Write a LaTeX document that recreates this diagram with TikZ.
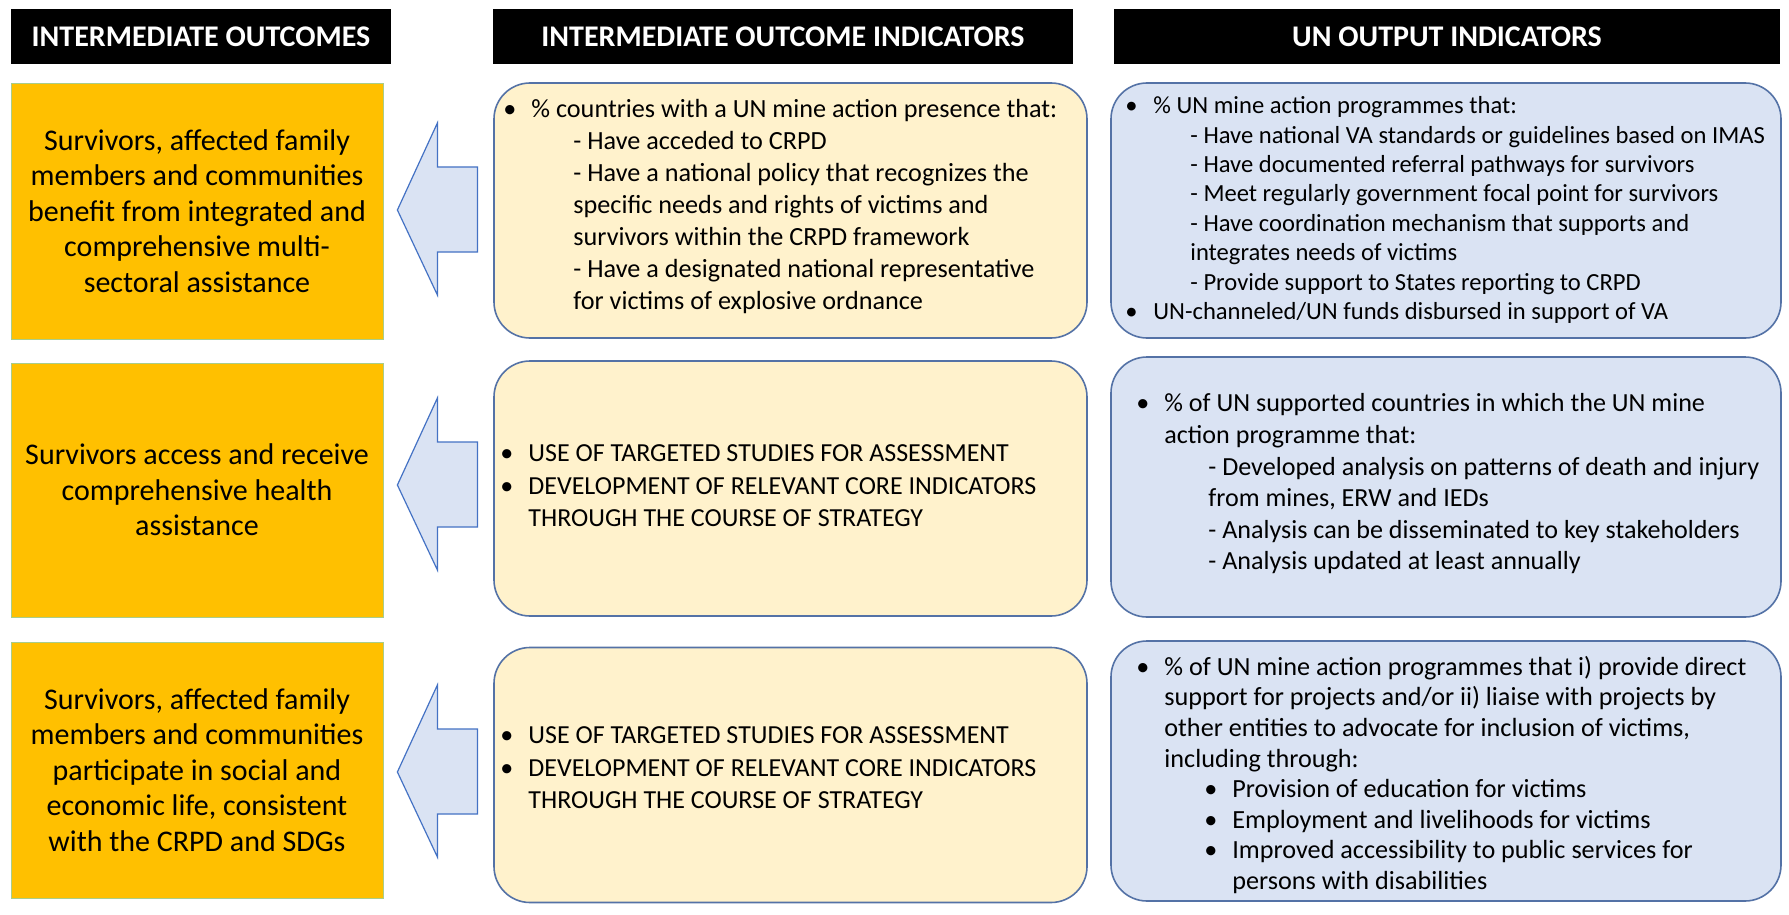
\documentclass[tikz,border=0pt]{standalone}
\usepackage{fontspec}
\setmainfont{Carlito}
\usetikzlibrary{calc}

\definecolor{outfill}{RGB}{255,192,0}
\definecolor{outline}{RGB}{169,205,138}
\definecolor{indfill}{RGB}{255,242,204}
\definecolor{unfill}{RGB}{218,227,243}
\definecolor{boxline}{RGB}{84,114,166}
\definecolor{arrline}{RGB}{68,114,196}

\newcommand{\bul}{\makebox[14pt][l]{\textbullet}}

\tikzset{
  barrow/.style={draw=arrline, fill=unfill, line width=0.6pt, line join=miter},
  txt/.style={anchor=west, align=left, inner sep=0pt}
}

\begin{document}
\begin{tikzpicture}[x=0.5pt,y=-0.5pt]

        \path[fill=white,use as bounding box] (0,0) rectangle (1789,915);

        \begin{scope}[every node/.style={fill=black,text=white,inner sep=0pt,
            minimum height=27.5pt,font=\fontsize{15}{18}\selectfont\bfseries}]
          \node[minimum width=190pt] (h1) at (201,36.5)  {INTERMEDIATE OUTCOMES};
          \node[minimum width=290pt] (h2) at (783,36.5)  {INTERMEDIATE OUTCOME INDICATORS};
          \node[minimum width=333pt] (h3) at (1447,36.5) {UN OUTPUT INDICATORS};
        \end{scope}

        \begin{scope}[every node/.style={draw=outline,fill=outfill,inner sep=0pt,
            minimum width=186pt,minimum height=128pt,align=center,
            font=\fontsize{15}{17.8}\selectfont}]
          \node (o1) at (197,211) {Survivors, affected family\\members and communities\\benefit from integrated and\\comprehensive multi-\\sectoral assistance};
          \node[minimum height=127pt] (o2) at (197,490) {Survivors access and receive\\comprehensive health\\assistance};
          \node (o3) at (197,770) {Survivors, affected family\\members and communities\\participate in social and\\economic life, consistent\\with the CRPD and SDGs};
        \end{scope}

        \begin{scope}[every node/.style={draw=boxline,fill=indfill,line width=0.8pt,
            rounded corners=18pt,minimum width=296.5pt,minimum height=127.5pt}]
          \node (i1) at (790.5,210.5) {};
          \node (i2) at (790.5,488.5) {};
          \node (i3) at (790.5,775) {};
        \end{scope}

        \begin{scope}[every node/.style={draw=boxline,fill=unfill,line width=0.8pt,
            rounded corners=18pt,minimum width=335pt,minimum height=127.5pt}]
          \node (u1) at (1446,210.5) {};
          \node[minimum height=130pt] (u2) at (1446,487) {};
          \node[minimum height=130pt] (u3) at (1446,771) {};
        \end{scope}

        \foreach \r/\dy in {1/-1,2/-5,3/2}
          \draw[barrow] ($(o\r.east)+(14,\dy)$) -- ++(40,-87) -- ++(0,44) -- ++(40,0)
            -- ++(0,85) -- ++(-40,0) -- ++(0,43) -- cycle;

        \node[txt,font=\fontsize{13.1}{16}\selectfont] (ti1) at (503,206.5)
          {\bul\% countries with a UN mine action presence that:\\
           \hspace*{35pt}- Have acceded to CRPD\\
           \hspace*{35pt}- Have a national policy that recognizes the\\
           \hspace*{35pt}specific needs and rights of victims and\\
           \hspace*{35pt}survivors within the CRPD framework\\
           \hspace*{35pt}- Have a designated national representative\\
           \hspace*{35pt}for victims of explosive ordnance};

        \node[txt,font=\fontsize{13}{16.2}\selectfont] (ti2) at (500,486)
          {\bul USE OF TARGETED STUDIES FOR ASSESSMENT\\
           \bul DEVELOPMENT OF RELEVANT CORE INDICATORS\\
           \hspace*{14pt}THROUGH THE COURSE OF STRATEGY};

        \node[txt,font=\fontsize{13}{16.2}\selectfont] (ti3) at (500,768)
          {\bul USE OF TARGETED STUDIES FOR ASSESSMENT\\
           \bul DEVELOPMENT OF RELEVANT CORE INDICATORS\\
           \hspace*{14pt}THROUGH THE COURSE OF STRATEGY};

        \node[txt,font=\fontsize{12.3}{14.7}\selectfont] (tu1) at (1125,210)
          {\bul\% UN mine action programmes that:\\
           \hspace*{32.5pt}- Have national VA standards or guidelines based on IMAS\\
           \hspace*{32.5pt}- Have documented referral pathways for survivors\\
           \hspace*{32.5pt}- Meet regularly government focal point for survivors\\
           \hspace*{32.5pt}- Have coordination mechanism that supports and\\
           \hspace*{32.5pt}integrates needs of victims\\
           \hspace*{32.5pt}- Provide support to States reporting to CRPD\\
           \bul UN-channeled/UN funds disbursed in support of VA};

        \node[txt,font=\fontsize{13.05}{15.8}\selectfont] (tu2) at (1136,484)
          {\bul\% of UN supported countries in which the UN mine\\
           \hspace*{14pt}action programme that:\\
           \hspace*{36pt}- Developed analysis on patterns of death and injury\\
           \hspace*{36pt}from mines, ERW and IEDs\\
           \hspace*{36pt}- Analysis can be disseminated to key stakeholders\\
           \hspace*{36pt}- Analysis updated at least annually};

        \node[txt,font=\fontsize{13.1}{15.3}\selectfont] (tu3) at (1136,775)
          {\bul\% of UN mine action programmes that i) provide direct\\
           \hspace*{14pt}support for projects and/or ii) liaise with projects by\\
           \hspace*{14pt}other entities to advocate for inclusion of victims,\\
           \hspace*{14pt}including through:\\
           \hspace*{34pt}\bul Provision of education for victims\\
           \hspace*{34pt}\bul Employment and livelihoods for victims\\
           \hspace*{34pt}\bul Improved accessibility to public services for\\
           \hspace*{48pt}persons with disabilities};

      \end{tikzpicture}
\end{document}
